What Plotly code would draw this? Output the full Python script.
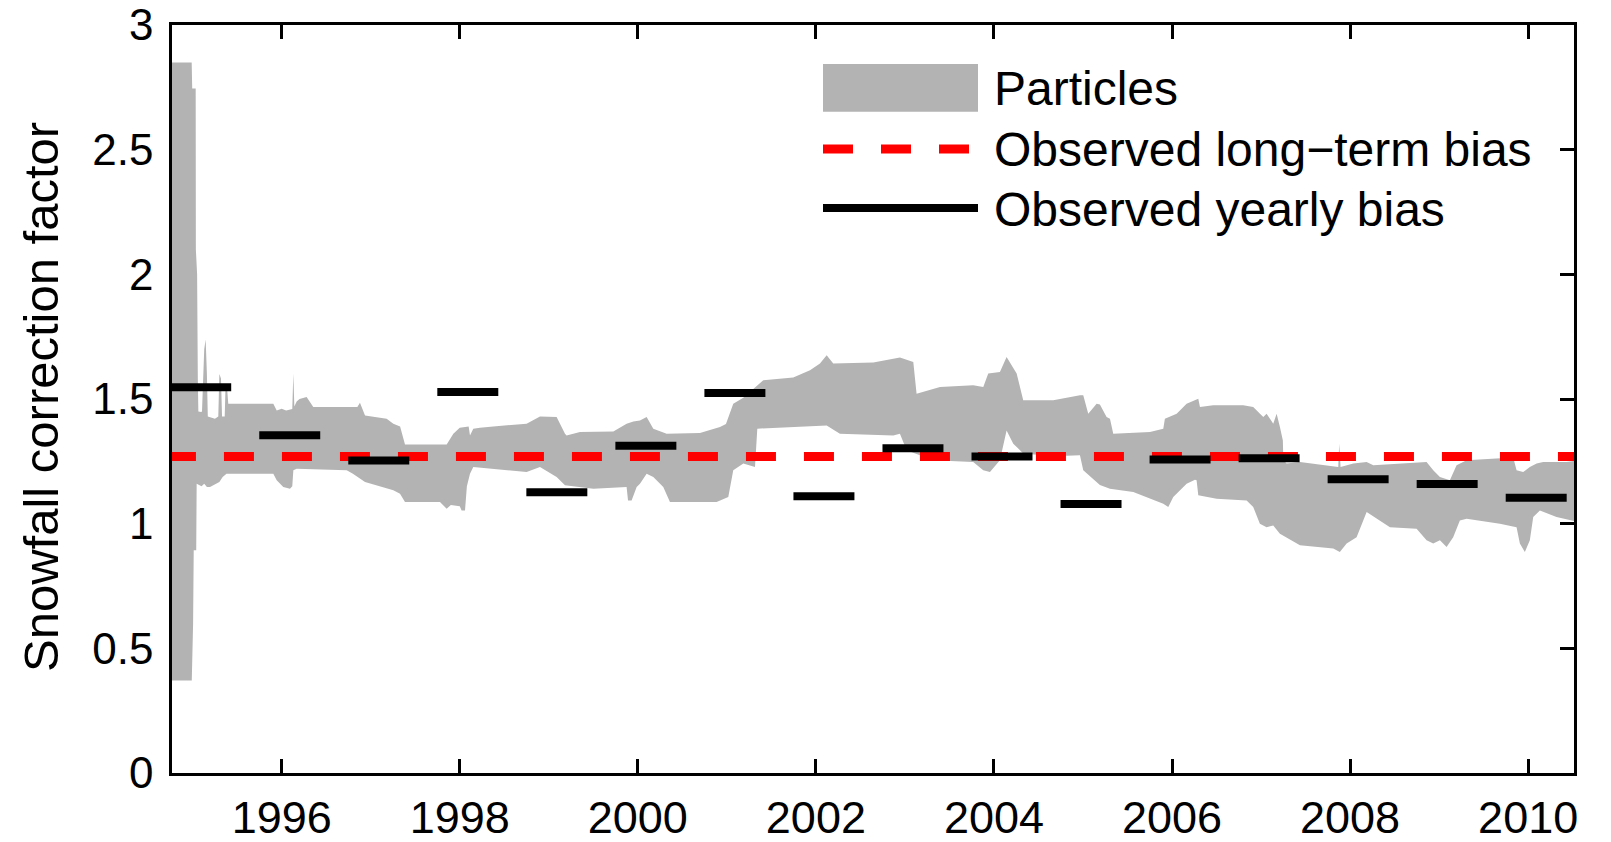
import plotly.graph_objects as go

# Particle-filter envelope of the snowfall correction factor (decimal years)
upper_year = [1994.70, 1994.989, 1994.995, 1995.034, 1995.036, 1995.050, 1995.058, 1995.064,
              1995.095, 1995.105, 1995.130, 1995.146, 1995.160, 1995.170, 1995.250, 1995.288,
              1995.300, 1995.318, 1995.330, 1995.360, 1995.370, 1995.385, 1995.400, 1995.906,
              1995.944, 1996.000, 1996.050, 1996.119, 1996.131, 1996.142, 1996.168, 1996.200,
              1996.280, 1996.310, 1996.355, 1996.850, 1996.879, 1996.936, 1997.179, 1997.254,
              1997.330, 1997.385, 1997.853, 1997.928, 1998.000, 1998.100, 1998.115, 1998.152,
              1998.227, 1998.377, 1998.751, 1998.901, 1999.088, 1999.182, 1999.200, 1999.350,
              1999.725, 1999.874, 1999.950, 2000.024, 2000.099, 2000.174, 2000.324, 2000.698,
              2000.923, 2000.990, 2001.072, 2001.185, 2001.409, 2001.746, 2001.934, 2002.046,
              2002.121, 2002.195, 2002.645, 2002.944, 2003.094, 2003.131, 2003.394, 2003.767,
              2003.880, 2003.936, 2004.067, 2004.142, 2004.255, 2004.329, 2004.666, 2004.966,
              2005.003, 2005.059, 2005.153, 2005.190, 2005.265, 2005.303, 2005.340, 2005.752,
              2005.902, 2005.920, 2006.052, 2006.164, 2006.295, 2006.314, 2006.463, 2006.800,
              2006.912, 2007.025, 2007.062, 2007.137, 2007.175, 2007.212, 2007.245, 2007.250,
              2007.287, 2007.437, 2007.811, 2007.867, 2007.878, 2007.893, 2008.036, 2008.186,
              2008.261, 2008.560, 2008.859, 2008.934, 2009.009, 2009.121, 2009.196, 2009.309,
              2009.832, 2009.870, 2009.944, 2010.019, 2010.095, 2010.169, 2010.431, 2010.560]
upper_val = [2.85, 2.85, 2.745, 2.745, 2.10, 2.00, 1.58, 1.45,
             1.448, 1.45, 1.70, 1.739, 1.60, 1.43, 1.421, 1.43,
             1.60, 1.582, 1.43, 1.43, 1.56, 1.55, 1.481, 1.481,
             1.454, 1.461, 1.454, 1.46, 1.602, 1.47, 1.49, 1.50,
             1.508, 1.49, 1.468, 1.468, 1.485, 1.434, 1.421, 1.401,
             1.39, 1.318, 1.318, 1.361, 1.385, 1.39, 1.354, 1.381,
             1.385, 1.39, 1.401, 1.43, 1.428, 1.361, 1.354, 1.368,
             1.37, 1.401, 1.41, 1.414, 1.428, 1.381, 1.361, 1.364,
             1.388, 1.40, 1.481, 1.505, 1.575, 1.586, 1.615, 1.642,
             1.675, 1.642, 1.646, 1.666, 1.648, 1.521, 1.548, 1.555,
             1.548, 1.602, 1.608, 1.668, 1.602, 1.495, 1.495, 1.515,
             1.515, 1.441, 1.481, 1.478, 1.428, 1.421, 1.361, 1.368,
             1.381, 1.421, 1.441, 1.481, 1.501, 1.468, 1.475, 1.475,
             1.468, 1.428, 1.441, 1.401, 1.441, 1.388, 1.334, 1.254,
             1.241, 1.247, 1.227, 1.227, 1.321, 1.227, 1.241, 1.247,
             1.234, 1.241, 1.247, 1.214, 1.187, 1.174, 1.234, 1.254,
             1.265, 1.214, 1.207, 1.227, 1.241, 1.247, 1.247, 1.254]

lower_year = [1994.70, 1994.990, 1995.005, 1995.012, 1995.040, 1995.045, 1995.100, 1995.130,
              1995.160, 1995.195, 1995.300, 1995.337, 1995.380, 1995.906, 1995.944, 1996.018,
              1996.093, 1996.119, 1996.131, 1996.168, 1996.730, 1996.800, 1996.936, 1997.067,
              1997.254, 1997.329, 1997.385, 1997.778, 1997.853, 1997.900, 1998.000, 1998.021,
              1998.059, 1998.080, 1998.115, 1998.152, 1998.377, 1998.751, 1998.901, 1999.088,
              1999.182, 1999.500, 1999.874, 1999.890, 1999.930, 1999.987, 2000.024, 2000.099,
              2000.174, 2000.286, 2000.361, 2000.885, 2001.016, 2001.072, 2001.185, 2001.316,
              2001.342, 2001.709, 2002.121, 2002.270, 2002.869, 2002.944, 2003.019, 2003.318,
              2003.767, 2003.880, 2003.955, 2004.067, 2004.142, 2004.217, 2004.329, 2004.666,
              2004.966, 2005.003, 2005.190, 2005.303, 2005.565, 2005.902, 2005.958, 2006.014,
              2006.164, 2006.258, 2006.276, 2006.295, 2006.501, 2006.838, 2006.912, 2006.987,
              2007.062, 2007.137, 2007.212, 2007.437, 2007.811, 2007.885, 2007.961, 2008.073,
              2008.148, 2008.186, 2008.261, 2008.448, 2008.747, 2008.859, 2008.934, 2009.009,
              2009.084, 2009.158, 2009.233, 2009.309, 2009.683, 2009.870, 2009.907, 2009.963,
              2010.019, 2010.057, 2010.132, 2010.319, 2010.560]
lower_val = [0.371, 0.371, 0.60, 0.893, 0.893, 1.16, 1.15, 1.16,
             1.147, 1.147, 1.167, 1.187, 1.20, 1.20, 1.174, 1.147,
             1.14, 1.15, 1.214, 1.22, 1.214, 1.20, 1.167, 1.154,
             1.134, 1.12, 1.087, 1.087, 1.06, 1.075, 1.07, 1.053,
             1.053, 1.15, 1.20, 1.227, 1.22, 1.207, 1.227, 1.187,
             1.154, 1.14, 1.147, 1.093, 1.093, 1.147, 1.16, 1.20,
             1.187, 1.147, 1.087, 1.087, 1.107, 1.214, 1.241, 1.227,
             1.381, 1.388, 1.394, 1.361, 1.354, 1.361, 1.294, 1.254,
             1.247, 1.214, 1.207, 1.254, 1.374, 1.321, 1.281, 1.27,
             1.274, 1.214, 1.155, 1.14, 1.127, 1.08, 1.067, 1.107,
             1.16, 1.176, 1.174, 1.114, 1.10, 1.093, 1.067, 1.00,
             0.986, 0.993, 0.96, 0.913, 0.90, 0.886, 0.92, 0.946,
             1.013, 1.047, 1.027, 0.986, 0.98, 0.933, 0.92, 0.933,
             0.906, 0.946, 1.013, 1.02, 1.00, 0.986, 0.92, 0.886,
             0.933, 1.027, 1.053, 1.027, 1.007]

# Observed snowfall bias per hydrological year (accumulation season Oct 1 - Jun 8)
hydro_years = list(range(1995, 2011))
yearly_bias = [1.547, 1.355, 1.253, 1.528, 1.126, 1.313, 1.524, 1.110,
               1.302, 1.269, 1.079, 1.257, 1.262, 1.178, 1.159, 1.104]
season_start = (10, 1)
season_end = (6, 8)

long_term_bias = 1.269

year_ticks = [1996, 1998, 2000, 2002, 2004, 2006, 2008, 2010]
y_ticks = [0, 0.5, 1, 1.5, 2, 2.5, 3]
y_tick_text = ["0", "0.5", "1", "1.5", "2", "2.5", "3"]

X_RANGE = [1994.768, 2010.515]

MONTH_START = [0, 31, 59, 90, 120, 151, 181, 212, 243, 273, 304, 334]


def decimal_year(year, month, day):
    return year + (MONTH_START[month - 1] + day - 1) / 365.0


GREY = "#b3b3b3"
FONT = "Liberation Sans, Arial, Helvetica, sans-serif"

fig = go.Figure()

# Envelope of the particles as one closed polygon
band_x = upper_year + lower_year[::-1]
band_y = upper_val + lower_val[::-1]
fig.add_trace(go.Scatter(x=band_x, y=band_y, mode="lines", fill="toself",
                         fillcolor=GREY, line=dict(width=0, color=GREY),
                         name="Particles", showlegend=False, hoverinfo="skip"))

# Long-term bias across the full period
fig.add_trace(go.Scatter(x=[upper_year[0], upper_year[-1]], y=[long_term_bias, long_term_bias],
                         mode="lines", line=dict(color="#ff0000", width=9, dash="30px,28px"),
                         name="Observed long\u2212term bias", showlegend=False))

# Yearly bias segments
seg_x, seg_y = [], []
for hy, b in zip(hydro_years, yearly_bias):
    seg_x += [decimal_year(hy - 1, *season_start), decimal_year(hy, *season_end), None]
    seg_y += [b, b, None]
fig.add_trace(go.Scatter(x=seg_x, y=seg_y, mode="lines",
                         line=dict(color="black", width=8),
                         name="Observed yearly bias", showlegend=False))

# Hand-drawn legend (wide keys)
L, R, T, B = 172, 1574, 25, 773


def px_x(px):
    return (px - L) / (R - L)


def px_y(py):
    return (B - py) / (B - T)


shapes = [
    dict(type="rect", xref="paper", yref="paper", x0=px_x(823), x1=px_x(978),
         y0=px_y(111.7), y1=px_y(64), fillcolor=GREY, line=dict(width=0)),
    dict(type="line", xref="paper", yref="paper", x0=px_x(823), x1=px_x(975),
         y0=px_y(149), y1=px_y(149), line=dict(color="#ff0000", width=9, dash="30px,28px")),
    dict(type="line", xref="paper", yref="paper", x0=px_x(823), x1=px_x(978),
         y0=px_y(208), y1=px_y(208), line=dict(color="black", width=8)),
]
legend_labels = ["Particles", "Observed long\u2212term bias", "Observed yearly bias"]
legend_rows = [88, 149, 209]
annotations = [
    dict(text=t, xref="paper", yref="paper", x=px_x(992), y=px_y(r), xanchor="left",
         yanchor="middle", showarrow=False, font=dict(size=48, color="black", family=FONT))
    for t, r in zip(legend_labels, legend_rows)
]
annotations.append(dict(text="Snowfall correction factor", xref="paper", yref="paper",
                        x=px_x(41), y=px_y(397), xanchor="center", yanchor="middle",
                        textangle=-90, showarrow=False,
                        font=dict(size=49, color="black", family=FONT)))

axis_common = dict(showline=True, linecolor="black", linewidth=2.5, mirror="ticks",
                   ticks="inside", ticklen=14, tickwidth=2.5, tickcolor="black",
                   showgrid=False, zeroline=False, layer="below traces",
                   automargin=False, ticklabeloverflow="allow")

fig.update_layout(
    width=1611, height=842,
    margin=dict(l=L, r=1611 - R, t=T, b=842 - B),
    plot_bgcolor="white", paper_bgcolor="white",
    xaxis=dict(range=X_RANGE, tickmode="array", tickvals=year_ticks,
               ticktext=[str(y) for y in year_ticks], ticklabelstandoff=3,
               tickfont=dict(size=45, color="black", family=FONT), **axis_common),
    yaxis=dict(range=[0, 3], tickmode="array", tickvals=y_ticks, ticktext=y_tick_text,
               ticklabelstandoff=7, tickfont=dict(size=44, color="black", family=FONT),
               **axis_common),
    shapes=shapes, annotations=annotations,
    showlegend=False,
)

fig.write_html("out.html")
